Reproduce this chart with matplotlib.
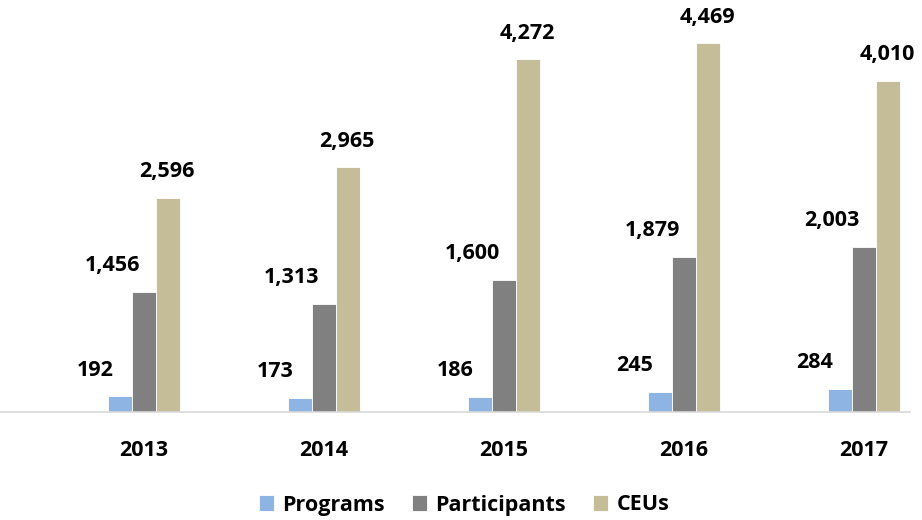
import matplotlib
matplotlib.use("Agg")
import matplotlib.pyplot as plt
import numpy as np

years = ["2013", "2014", "2015", "2016", "2017"]
programs = [192, 173, 186, 245, 284]
participants = [1456, 1313, 1600, 1879, 2003]
ceus = [2596, 2965, 4272, 4469, 4010]

series_names = ["Programs", "Participants", "CEUs"]
series_vals = [programs, participants, ceus]
colors = ["#8DB4E2", "#808080", "#C4BD97"]
label_dx = [-25, -32, -1]  # pixel offsets for value labels

plt.rcParams['font.family'] = ['Open Sans', 'DejaVu Sans']

W, H = 922, 520
fig = plt.figure(figsize=(W / 100, H / 100), dpi=100)
ax = fig.add_axes([0 / W, (H - 412) / H, 910 / W, 412 / H])

x = np.arange(len(years))
bw = 0.1333
for i, (name, vals, c) in enumerate(zip(series_names, series_vals, colors)):
    pos = x + (i - 1) * bw
    ax.bar(pos, vals, width=bw, color=c, edgecolor="white", linewidth=0.6, label=name, zorder=2)
    for px, v in zip(pos, vals):
        ax.annotate(f"{v:,}", (px, v), xytext=(label_dx[i], 26), textcoords="offset pixels",
                    ha="center", va="center", fontsize=15.5, fontweight="bold", color="black")

ax.set_xlim(-144 / 180, (910 - 144) / 180)
ax.set_ylim(0, 4990)
ax.set_yticks([])
ax.set_xticks(x)
ax.set_xticklabels(years, fontsize=15.5, fontweight="bold")
ax.tick_params(axis="x", length=0, pad=20)
for s in ["top", "right", "left"]:
    ax.spines[s].set_visible(False)
ax.spines["bottom"].set_color("#D9D9D9")
ax.spines["bottom"].set_linewidth(1.2)

leg = fig.legend(loc="center", bbox_to_anchor=(464 / W, 1 - 505 / H), ncol=3, frameon=False,
                 prop={"size": 15.5, "weight": "bold"}, handlelength=0.7, handleheight=0.7,
                 handletextpad=0.4, columnspacing=1.25)

fig.savefig("out.png", dpi=100, facecolor="white")
